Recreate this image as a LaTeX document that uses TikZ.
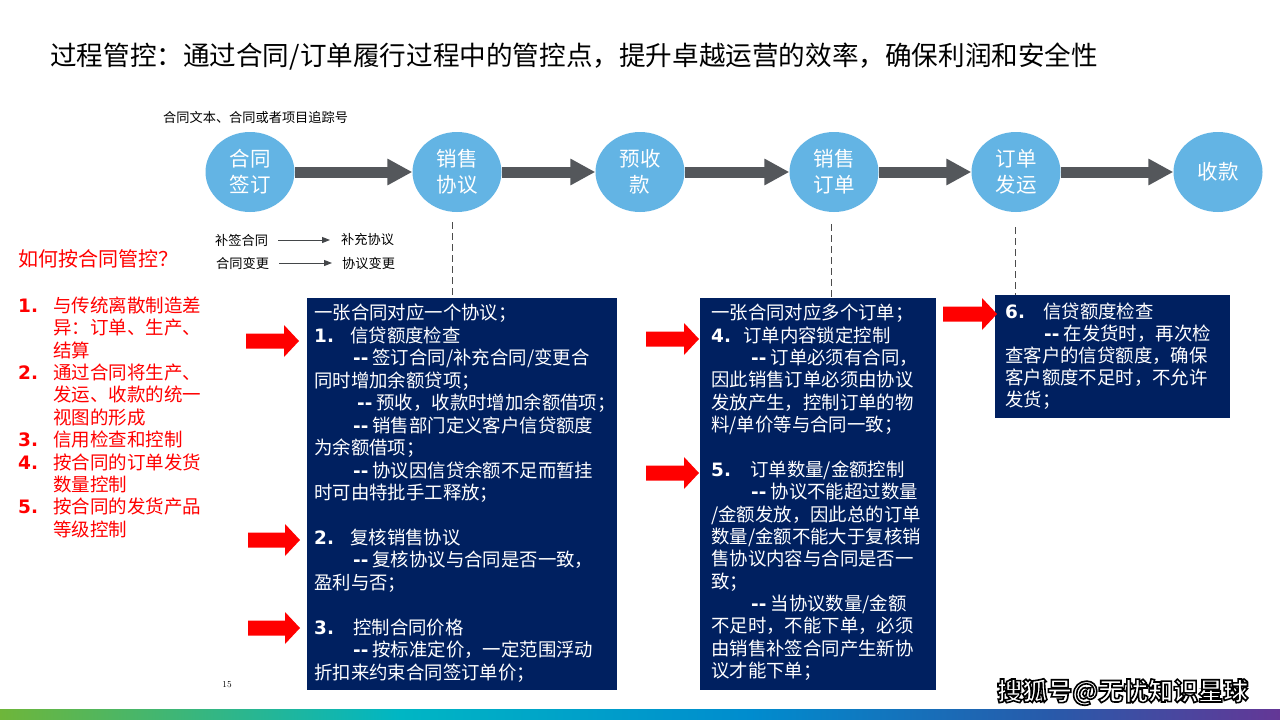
\documentclass[tikz,border=0pt]{standalone}
\usepackage{fontspec}
\newfontfamily\cjk{Noto Sans CJK SC}
\newfontfamily\numf{DejaVu Sans}
\usetikzlibrary{arrows.meta,shapes.geometric}
\definecolor{circblue}{RGB}{99,180,228}
\definecolor{navy}{RGB}{0,32,96}
\definecolor{arrgray}{RGB}{84,87,91}
\definecolor{gA}{RGB}{110,182,58}
\definecolor{gB}{RGB}{0,182,196}
\definecolor{gC}{RGB}{0,140,206}
\definecolor{gD}{RGB}{40,90,170}
\definecolor{gE}{RGB}{100,55,150}
\newcommand\dd{{\numf\bfseries -{}-} }
\newcommand\nb[2]{\makebox[#1pt][l]{\numf\bfseries #2}}
\newcommand\redarr[3]{\fill[red] (#1,{#3-7.5}) -- ({#2-15},{#3-7.5}) -- ({#2-15},{#3-16}) -- (#2,#3) -- ({#2-15},{#3+16}) -- ({#2-15},{#3+7.5}) -- (#1,{#3+7.5}) -- cycle;}
\begin{document}
\begin{tikzpicture}[x=1pt,y=-1pt,
  proc/.style={ellipse, fill=circblue, minimum width=89pt, minimum height=80pt, inner sep=0pt,
    text=white, align=center, font=\fontsize{20.5}{26}\selectfont\cjk},
  flow/.style={arrgray, line width=11pt, -{Triangle[width=25pt,length=25pt]}},
  sub/.style={inner sep=0pt, anchor=west, font=\fontsize{13.2}{15}\selectfont\cjk},
  thinarr/.style={draw=arrgray!80!black, line width=1pt, -{Triangle[width=6pt,length=8pt]}},
  dashline/.style={draw=black!70, line width=0.8pt, dash pattern=on 7pt off 4pt},
  bluebox/.style={fill=navy, draw=none, inner sep=0pt, anchor=north west},
  boxtext/.style={inner sep=0pt, anchor=north west, align=left, text=white},
  redtext/.style={inner sep=0pt, text=red, align=left}
]
\useasboundingbox (0,0) rectangle (1280,720);
\fill[white] (0,0) rectangle (1280,720);

% title
\node[inner sep=0pt, anchor=west, font=\fontsize{26.6}{30}\selectfont\cjk] (title) at (50,57)
  {过程管控：通过合同/订单履行过程中的管控点，提升卓越运营的效率，确保利润和安全性};
\node[sub] (track) at (163,117) {合同文本、合同或者项目追踪号};

% process circles
\node[proc] (c1) at (250,172) {合同\\签订};
\node[proc] (c2) at (457,172) {销售\\协议};
\node[proc] (c3) at (640,172) {预收\\款};
\node[proc] (c4) at (834,172) {销售\\订单};
\node[proc] (c5) at (1016,172) {订单\\发运};
\node[proc] (c6) at (1218,172) {收款};
\draw[flow] (c1) -- (c2);
\draw[flow] (c2) -- (c3);
\draw[flow] (c3) -- (c4);
\draw[flow] (c4) -- (c5);
\draw[flow] (c5) -- (c6);

% sub labels
\node[sub] (s1) at (215,240) {补签合同};
\node[sub] (s2) at (341,240) {补充协议};
\node[sub] (s3) at (216,263) {合同变更};
\node[sub] (s4) at (342,263) {协议变更};
\draw[thinarr] ([xshift=10pt]s1.east) -- ([xshift=-11pt]s2.west);
\draw[thinarr] ([xshift=10pt]s3.east) -- ([xshift=-10pt]s4.west);

% blue boxes
\node[bluebox, minimum width=310pt, minimum height=392pt] (b1) at (307,298) {};
\node[bluebox, minimum width=236pt, minimum height=392pt] (b2) at (700,298) {};
\node[bluebox, minimum width=235pt, minimum height=123pt] (b3) at (995,295) {};

% dashed connectors
\draw[dashline] ([xshift=-5pt,yshift=-10pt]c2.south) -- ([xshift=-5pt]c2.south |- b1.north);
\draw[dashline] ([xshift=-3pt,yshift=-12pt]c4.south) -- ([xshift=-3pt]c4.south |- b2.north);
\draw[dashline] ([xshift=-1pt,yshift=-15pt]c5.south) -- ([xshift=-1pt]c5.south |- b3.north);

% box texts
\node[boxtext, font=\fontsize{18.4}{22.45}\selectfont\cjk] (t1) at (314,302.7) {%
\rule{0pt}{17pt}一张合同对应一个协议；\\
\nb{36}{1.}信贷额度检查\\
\hspace*{39pt}\dd 签订合同/补充合同/变更合\\
同时增加余额贷项；\\
\hspace*{43pt}\dd 预收，收款时增加余额借项；\\
\hspace*{39pt}\dd 销售部门定义客户信贷额度\\
为余额借项；\\
\hspace*{39pt}\dd 协议因信贷余额不足而暂挂\\
时可由特批手工释放；\\[22.45pt]
\nb{36}{2.}复核销售协议\\
\hspace*{39pt}\dd 复核协议与合同是否一致，\\
盈利与否；\\[22.45pt]
\nb{39}{3.}控制合同价格\\
\hspace*{39pt}\dd 按标准定价，一定范围浮动\\
折扣来约束合同签订单价；};

\node[boxtext, font=\fontsize{18.4}{22.35}\selectfont\cjk] (t2) at (711,302.7) {%
\rule{0pt}{17pt}一张合同对应多个订单；\\
\nb{32}{4.}订单内容锁定控制\\
\hspace*{40pt}\dd 订单必须有合同，\\
因此销售订单必须由协议\\
发放产生，控制订单的物\\
料/单价等与合同一致；\\[22.35pt]
\nb{39}{5.}订单数量/金额控制\\
\hspace*{40pt}\dd 协议不能超过数量\\
/金额发放，因此总的订单\\
数量/金额不能大于复核销\\
售协议内容与合同是否一\\
致；\\
\hspace*{40pt}\dd 当协议数量/金额\\
不足时，不能下单，必须\\
由销售补签合同产生新协\\
议才能下单；};

\node[boxtext, font=\fontsize{18.4}{22}\selectfont\cjk] (t3) at (1005,301.7) {%
\rule{0pt}{17pt}\nb{38}{6.}信贷额度检查\\
\hspace*{39pt}\dd 在发货时，再次检\\
查客户的信贷额度，确保\\
客户额度不足时，不允许\\
发货；};

% left red text
\node[redtext, anchor=west, font=\fontsize{20}{24}\selectfont\cjk] (q) at (18,259) {如何按合同管控？};
\node[redtext, anchor=north west, font=\fontsize{18.5}{22.4}\selectfont\cjk] (list) at (18,295) {%
\rule{0pt}{17pt}\nb{35}{1.}与传统离散制造差\\
\hspace*{35pt}异：订单、生产、\\
\hspace*{35pt}结算\\
\nb{35}{2.}通过合同将生产、\\
\hspace*{35pt}发运、收款的统一\\
\hspace*{35pt}视图的形成\\
\nb{35}{3.}信用检查和控制\\
\nb{35}{4.}按合同的订单发货\\
\hspace*{35pt}数量控制\\
\nb{35}{5.}按合同的发货产品\\
\hspace*{35pt}等级控制};

% red block arrows
\redarr{246}{299}{341}
\redarr{248}{300}{540}
\redarr{248}{300}{628}
\redarr{646}{699}{339}
\redarr{646}{699}{473}
\redarr{943}{997}{314}

% page number
\node[inner sep=0pt, font=\fontsize{9}{10}\selectfont] (pg) at (227,685) {15};

% watermark: white text with dark outline (text render mode 2)
\node[inner sep=0pt, anchor=west, text=white, font=\fontsize{25}{27}\selectfont\cjk\bfseries] (wm) at (997,692)
  {\special{pdf:literal direct 2 Tr 1.6 w 0 0 0 RG}搜狐号@无忧知识星球\special{pdf:literal direct 0 Tr}};

% bottom gradient bar
\shade[left color=gA, right color=gB] (0,709) rectangle (400.5,719);
\shade[left color=gB, right color=gC] (400,709) rectangle (750.5,719);
\shade[left color=gC, right color=gD] (750,709) rectangle (1050.5,719);
\shade[left color=gD, right color=gE] (1050,709) rectangle (1280,719);
\end{tikzpicture}
\end{document}
